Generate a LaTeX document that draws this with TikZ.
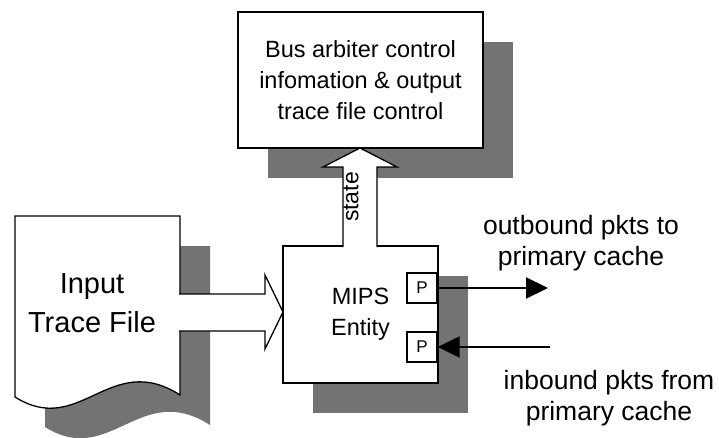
\documentclass[tikz,border=0pt]{standalone}
\usepackage{fontspec}
\setmainfont{Liberation Sans}
\usetikzlibrary{arrows.meta,shadows}

\begin{document}
\begin{tikzpicture}
[x=1pt,y=-1pt]
\tikzset{shade/.style={drop shadow={shadow xshift=30pt,shadow yshift=-30pt,fill=black!55,opacity=1}}}
\tikzset{box/.style={rectangle,draw,line width=1.3pt,fill=white,inner sep=0pt,align=center,shade,
  font=\fontsize{23.5}{31}\selectfont}}
\tikzset{pbox/.style={rectangle,draw,line width=1.3pt,fill=white,inner sep=0pt,minimum size=30pt,
  font=\fontsize{17}{20}\selectfont}}
\tikzset{lbl/.style={align=center,inner sep=0pt,font=\fontsize{26.5}{31}\selectfont}}
\tikzset{blockarrow/.style={fill=white,draw,line width=1.3pt,line join=miter}}
\tikzset{pkt/.style={line width=2.2pt,-{Triangle[length=22pt,width=21pt]}}}
\useasboundingbox (0,0) rectangle (719,438);

\node [box,minimum width=245pt,minimum height=136pt] (arbiter) at (360.5,80)
  {Bus arbiter control\\infomation \& output\\trace file control};

\draw [fill=white,line width=1.3pt,shade] (15,216) -- (180,216) -- (180,395)
  .. controls (110,350) and (80,438) .. (15,397) -- cycle;
\node [lbl,font=\fontsize{29}{39}\selectfont] (file) at (92,303) {Input\\Trace File};

\node [box,minimum width=155pt,minimum height=137pt] (mips) at (360.5,314.5) {MIPS\\Entity};

\filldraw [blockarrow] (179,294) -- (265,294) -- (265,275) -- (283,312) -- (265,349) -- (265,331) -- (179,331);
\filldraw [blockarrow] (343,247) -- (343,167) -- (323,167) -- (360,148) -- (397,167) -- (377,167) -- (377,247);
\node [lbl,rotate=90,font=\fontsize{23}{28}\selectfont] (state) at (351,197) {state};

\node [pbox] (pout) at (422,288) {P};
\node [pbox] (pin) at (422,347) {P};

\coordinate (outend) at (548,288);
\coordinate (inend) at (550,347);
\foreach \from/\to in {pout/outend,inend/pin}
	\draw [pkt] (\from) -- (\to);

\node [lbl] (outtxt) at (581,243) {outbound pkts to\\primary cache};
\node [lbl] (intxt) at (609,398) {inbound pkts from\\primary cache};

\end{tikzpicture}
\end{document}
